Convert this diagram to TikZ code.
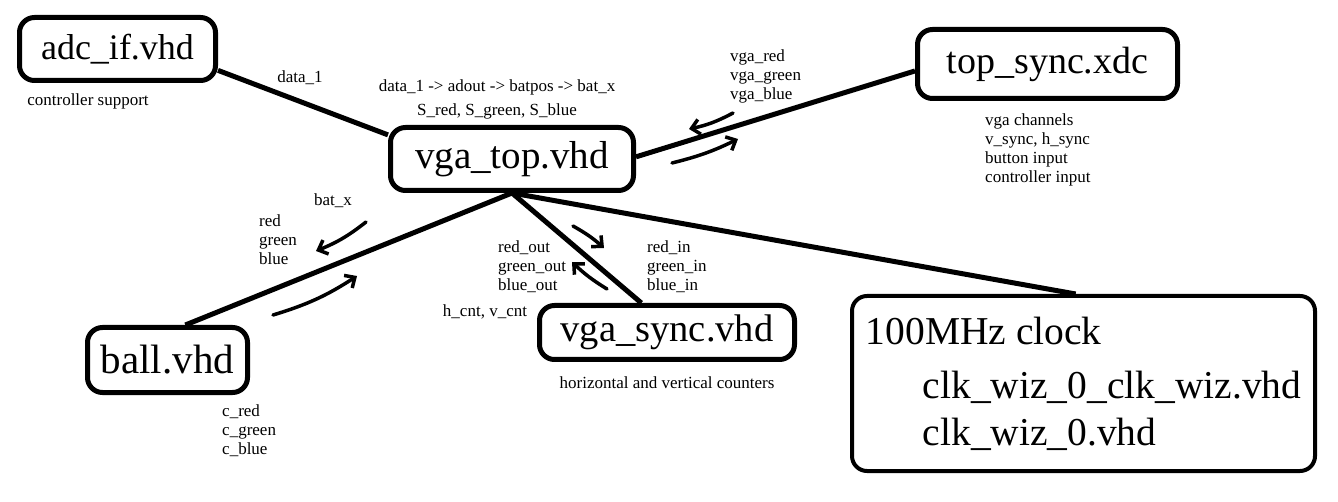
\documentclass[tikz,border=0pt]{standalone}
\usepackage{fontspec}
\setmainfont{Liberation Serif}
\usetikzlibrary{arrows.meta}
\begin{document}
\begin{tikzpicture}[x=1pt,y=-1pt,
  box/.style={draw, line width=5pt, rounded corners=15pt, inner sep=0pt, fill=white},
  big/.style={font=\fontsize{38}{44}\selectfont},
  lbl/.style={font=\fontsize{17}{19}\selectfont, inner sep=0pt, align=left},
  wire/.style={line width=5pt},
  hand/.style={line width=3.5pt, line cap=round, -{Straight Barb[length=8pt,width=15pt]}}
]
\fill[white] (0,0) rectangle (1338,502);
\useasboundingbox (0,0) rectangle (1338,502);

% boxes
\node[box, font=\fontsize{36}{40}\selectfont, minimum width=196pt, minimum height=63pt] (adc) at (117.5,49) {adc\_if.vhd};
\node[box, font=\fontsize{39}{44}\selectfont, minimum width=243pt, minimum height=63pt] (vgatop) at (512,159) {vga\_top.vhd};
\node[box, big, minimum width=260pt, minimum height=69pt] (topsync) at (1047.5,64) {top\_sync.xdc};
\node[box, font=\fontsize{41}{44}\selectfont, minimum width=160pt, minimum height=65pt] (ball) at (167.5,360) {ball.vhd};
\node[box, font=\fontsize{38.5}{44}\selectfont, minimum width=255pt, minimum height=54pt] (vgasync) at (667,332.5) {vga\_sync.vhd};
\node[box, line width=4pt, font=\fontsize{39.5}{47}\selectfont, align=left, minimum width=463pt, minimum height=175pt] (clock) at (1083.5,383.5)
  {100MHz clock\\[7pt]\hspace*{57pt}clk\_wiz\_0\_clk\_wiz.vhd\\\hspace*{57pt}clk\_wiz\_0.vhd};

% connectors
\draw[wire] (adc.-12) -- (vgatop.169);
\draw[wire] (vgatop.1) -- (topsync.-177);
\draw[wire] (vgatop.south) -- (ball.63);
\draw[wire] (vgatop.south) -- (vgasync.131);
\draw[wire] (vgatop.south) -- (clock.95);

% labels
\node[lbl] (l1) at (300,78) {data\_1};
\node[lbl] (l2) at (88,101) {controller support};
\node[lbl] (l3) at (497,87) {data\_1 -> adout -> batpos -> bat\_x};
\node[lbl] (l4) at (497,111) {S\_red, S\_green, S\_blue};
\node[lbl, anchor=north west] (l5) at (730,50) {vga\_red\\vga\_green\\vga\_blue};
\node[lbl, anchor=north west] (l6) at (985,114) {vga channels\\v\_sync, h\_sync\\button input\\controller input};
\node[lbl] (l7) at (333,201) {bat\_x};
\node[lbl, anchor=north west] (l8) at (259,215) {red\\green\\blue};
\node[lbl, anchor=north west] (l9) at (222,405) {c\_red\\c\_green\\c\_blue};
\node[lbl] (l10) at (485,312) {h\_cnt, v\_cnt};
\node[lbl, anchor=north west] (l11) at (498,241) {red\_out\\green\_out\\blue\_out};
\node[lbl, anchor=north west] (l12) at (647,241) {red\_in\\green\_in\\blue\_in};
\node[lbl] (l13) at (667,383) {horizontal and vertical counters};

% hand-drawn arrows
\coordinate (a1s) at (733,113); \coordinate (a1e) at (689,129);
\coordinate (a2s) at (672,163); \coordinate (a2e) at (738,139);
\coordinate (a3s) at (366,222); \coordinate (a3e) at (316,251);
\coordinate (a4s) at (273,315); \coordinate (a4e) at (357,276);
\coordinate (a5s) at (573,226); \coordinate (a5e) at (604,248);
\coordinate (a6s) at (607,289); \coordinate (a6e) at (572,262);
\draw[hand] (a1s) to[bend left=8] (a1e);
\draw[hand] (a2s) to[bend right=6] (a2e);
\draw[hand] (a3s) to[bend left=8] (a3e);
\draw[hand] (a4s) to[bend right=8] (a4e);
\draw[hand] (a5s) to[bend left=6] (a5e);
\draw[hand] (a6s) to[bend left=6] (a6e);
\end{tikzpicture}
\end{document}
